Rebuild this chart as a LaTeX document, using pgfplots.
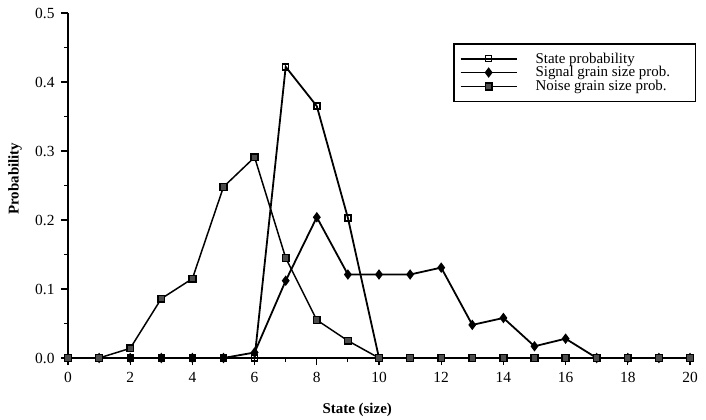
\documentclass[border=0pt]{standalone}
\usepackage{fontspec}
\setmainfont{Liberation Serif}
\usepackage{pgfplots}
\pgfplotsset{compat=1.18}

\begin{document}
\begin{tikzpicture}
\path[use as bounding box] (-68bp,-62bp) rectangle (638bp,358bp);
\begin{axis}[
    at={(0,0)}, anchor=south west,
    scale only axis,
    width=622bp, height=345bp,
    xmin=0, xmax=20, ymin=0, ymax=0.5,
    axis lines=left,
    axis line style={-, line width=1.6pt},
    clip=false,
    xtick={0,2,...,20}, minor x tick num=1,
    ytick={0,0.1,...,0.5}, minor y tick num=1,
    tick align=outside,
    major tick length=7bp, minor tick length=4bp,
    tick style={black, line width=1.1pt},
    tick label style={font=\fontsize{15.5}{17}\selectfont},
    xticklabel style={yshift=-4bp},
    /pgf/number format/assume math mode=true,
    yticklabel style={xshift=-3bp, /pgf/number format/.cd, fixed, fixed zerofill, precision=1},
    xlabel={\textbf{State (size)}},
    ylabel={\textbf{Probability}},
    label style={font=\fontsize{15}{17}\selectfont},
    xlabel style={at={(axis description cs:0.465,0)}, anchor=center, yshift=-52bp},
    ylabel style={at={(axis description cs:-0.085,0.52)}, anchor=center},
    legend style={at={(axis description cs:0.619,0.913)}, anchor=north west,
        draw=black, line width=1.5pt, font=\fontsize{15}{13}\selectfont,
        row sep=-2bp, inner xsep=6bp, inner ysep=7bp,
        /tikz/every odd column/.append style={column sep=16bp}},
    legend cell align=left,
    legend image code/.code={\draw[mark repeat=2, mark phase=2] plot coordinates {(0bp,0bp) (28bp,0bp) (56bp,0bp)};},
]
\addplot[black, line width=1.8pt, mark=square, mark size=3bp, mark options={solid, line width=1.4pt, fill=white}]
coordinates {(0,0) (1,0) (2,0) (3,0) (4,0) (5,0) (6,0) (7,0.422) (8,0.365) (9,0.203) (10,0)
(11,0) (12,0) (13,0) (14,0) (15,0) (16,0) (17,0) (18,0) (19,0) (20,0)};
\addlegendentry{\makebox[152bp][l]{State probability}}
\addplot[black, line width=1.8pt, mark=diamond*, mark size=3.8bp, mark options={solid, fill=black}]
coordinates {(0,0) (1,0) (2,0) (3,0) (4,0) (5,0) (6,0.008) (7,0.112) (8,0.204) (9,0.121) (10,0.121)
(11,0.121) (12,0.131) (13,0.048) (14,0.058) (15,0.017) (16,0.028) (17,0) (18,0) (19,0) (20,0)};
\addlegendentry{\makebox[152bp][l]{Signal grain size prob.}}
\addplot[black, line width=1.5pt, mark=square*, mark size=3.4bp, mark options={solid, draw=black, fill=black!70}]
coordinates {(0,0) (1,0) (2,0.014) (3,0.086) (4,0.115) (5,0.248) (6,0.291) (7,0.145) (8,0.055) (9,0.025) (10,0)
(11,0) (12,0) (13,0) (14,0) (15,0) (16,0) (17,0) (18,0) (19,0) (20,0)};
\addlegendentry{\makebox[152bp][l]{Noise grain size prob.}}
\end{axis}
\end{tikzpicture}
\end{document}
